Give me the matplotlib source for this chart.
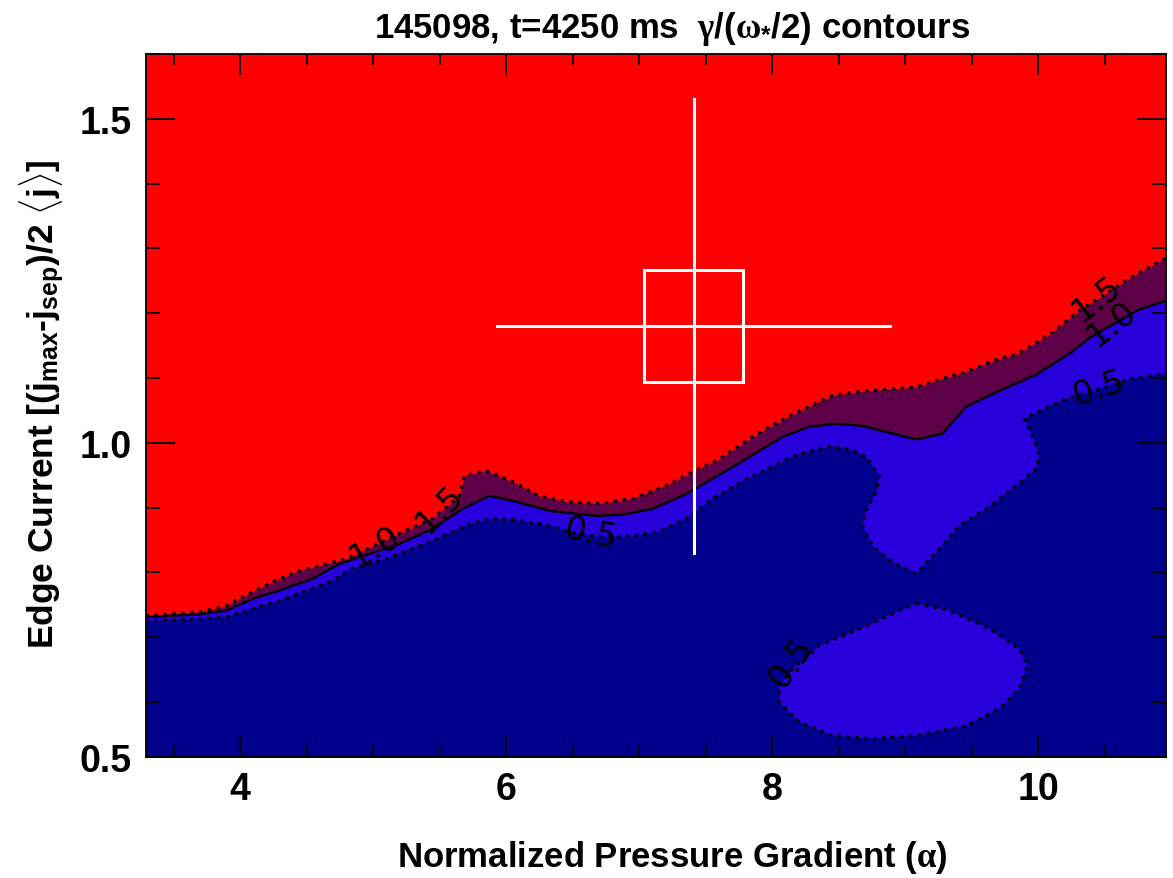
import matplotlib
matplotlib.use("Agg")
import matplotlib.pyplot as plt
from matplotlib.patches import Rectangle
from matplotlib.ticker import FixedLocator, MultipleLocator

plt.rcParams['font.family'] = ['Liberation Sans', 'DejaVu Sans']
plt.rcParams['font.weight'] = 'bold'
plt.rcParams['mathtext.fontset'] = 'custom'
plt.rcParams['mathtext.rm'] = 'Liberation Sans:bold'
plt.rcParams['mathtext.bf'] = 'Liberation Sans:bold'
plt.rcParams['mathtext.it'] = 'Liberation Serif'

# growth-rate contours gamma/(omega*/2) in the (alpha, edge current) plane
# 1.5 contour (red / purple boundary)
c15_x = [3.29, 3.694, 3.897, 4.092, 4.243, 4.423, 4.649, 4.799, 5.198, 5.446,
         5.649, 5.686, 5.852, 5.950, 6.077, 6.250, 6.453, 6.701, 6.950, 7.205,
         7.401, 7.604, 7.829, 7.957, 8.205, 8.453, 8.709, 9.085, 9.205, 9.461,
         9.709, 9.844, 10.092, 10.295, 10.551, 10.754, 10.96]
c15_y = [0.733, 0.739, 0.748, 0.770, 0.785, 0.801, 0.813, 0.821, 0.860, 0.883,
         0.918, 0.949, 0.957, 0.949, 0.937, 0.918, 0.909, 0.906, 0.914, 0.934,
         0.955, 0.975, 1.006, 1.022, 1.049, 1.073, 1.080, 1.086, 1.094, 1.110,
         1.130, 1.137, 1.168, 1.202, 1.236, 1.262, 1.285]

# 1.0 contour (solid line)
c10_x = [3.29, 3.694, 3.897, 4.092, 4.295, 4.543, 4.746, 5.198, 5.446, 5.671,
         5.874, 6.077, 6.325, 6.679, 6.874, 7.100, 7.355, 7.581, 7.829, 8.077,
         8.280, 8.483, 8.679, 9.085, 9.280, 9.461, 9.709, 9.995, 10.251, 10.401,
         10.754, 10.96]
c10_y = [0.731, 0.735, 0.741, 0.759, 0.772, 0.790, 0.813, 0.844, 0.867, 0.898,
         0.918, 0.909, 0.895, 0.887, 0.889, 0.898, 0.921, 0.948, 0.978, 1.009,
         1.025, 1.029, 1.026, 1.005, 1.014, 1.056, 1.080, 1.106, 1.140, 1.164,
         1.205, 1.219]

# 0.5 contour, main branch (folds back on itself near alpha ~ 9)
c05_x = [3.29, 3.694, 3.897, 4.092, 4.295, 4.498, 4.694, 4.844, 5.100, 5.198,
         5.446, 5.701, 5.897, 6.077, 6.325, 6.498, 6.701, 6.904, 7.152, 7.378,
         7.551, 7.807, 8.077, 8.205, 8.453, 8.603, 8.709, 8.806, 8.784, 8.709,
         8.679, 8.754, 8.905, 9.085, 9.258, 9.408, 9.611, 9.806, 9.987, 10.010,
         9.957, 9.897, 10.010, 10.213, 10.461, 10.709, 10.96]
c05_y = [0.725, 0.728, 0.731, 0.744, 0.756, 0.772, 0.787, 0.806, 0.821, 0.829,
         0.849, 0.873, 0.883, 0.881, 0.872, 0.861, 0.855, 0.855, 0.863, 0.886,
         0.914, 0.944, 0.971, 0.983, 0.995, 0.988, 0.978, 0.949, 0.924, 0.898,
         0.872, 0.841, 0.816, 0.798, 0.836, 0.872, 0.898, 0.929, 0.960, 0.980,
         1.011, 1.037, 1.049, 1.068, 1.083, 1.099, 1.106]

# 0.5 contour, closed island at low current
isl_x = [9.085, 9.333, 9.634, 9.859, 9.919, 9.859, 9.709, 9.461, 9.085, 8.754,
         8.453, 8.205, 8.055, 8.055, 8.153, 8.356, 8.657, 8.905, 9.085]
isl_y = [0.752, 0.741, 0.713, 0.682, 0.656, 0.620, 0.590, 0.563, 0.548, 0.543,
         0.548, 0.569, 0.600, 0.625, 0.651, 0.687, 0.713, 0.736, 0.752]

# experimental operating point with uncertainty box and range bars
alpha_exp, j_exp = 7.41, 1.18
box_dx, box_dy = 0.37, 0.087
bar_dx, bar_dy = 1.475, 0.35

# contour labels: text, alpha, current, rotation
clabels = [("1.5", 5.50, 0.898, 45), ("1.0", 5.01, 0.840, 30),
           ("0.5", 6.64, 0.860, -12), ("1.5", 10.44, 1.224, 38),
           ("1.0", 10.55, 1.185, 38), ("0.5", 10.46, 1.085, 18),
           ("0.5", 8.145, 0.662, 55)]

xmin, xmax = 3.29, 10.96
ymin, ymax = 0.515, 1.60

RED = '#ff0000'
PURPLE = '#5e0048'
BLUE = '#2800dc'
NAVY = '#00008c'

fig = plt.figure(figsize=(11.73, 8.79), dpi=100)
ax = fig.add_axes([0.1242, 0.1377, 0.8696, 0.7997])
ax.set_facecolor(RED)

floor = 0.3
ax.fill_between(c15_x, c15_y, floor, color=PURPLE, lw=0)
ax.fill_between(c10_x, c10_y, floor, color=BLUE, lw=0)
ax.fill(c05_x + [xmax + 1, xmin - 1], c05_y + [floor, floor], color=NAVY, lw=0)
ax.fill(isl_x, isl_y, color=BLUE, lw=0)

dots = (0, (1, 1.8))
ax.plot(c15_x, c15_y, color='black', lw=2.3, linestyle=dots)
ax.plot(c10_x, c10_y, color='black', lw=1.7)
ax.plot(c05_x, c05_y, color='black', lw=2.3, linestyle=dots)
ax.plot(isl_x, isl_y, color='black', lw=2.3, linestyle=dots)

for txt, xa, ya, rot in clabels:
    ax.text(xa, ya, txt, rotation=rot, ha='center', va='center',
            fontsize=24, fontweight='normal', color='black',
            family=['DejaVu Sans'])

# operating point
ax.add_patch(Rectangle((alpha_exp - box_dx, j_exp - box_dy), 2 * box_dx, 2 * box_dy,
                       fill=False, edgecolor='white', lw=2.2))
ax.plot([alpha_exp - bar_dx, alpha_exp + bar_dx], [j_exp, j_exp], color='white', lw=2.2)
ax.plot([alpha_exp, alpha_exp], [j_exp - bar_dy, j_exp + bar_dy], color='white', lw=2.2)

ax.set_xlim(xmin, xmax)
ax.set_ylim(ymin, ymax)

ax.xaxis.set_major_locator(FixedLocator([4, 6, 8, 10]))
ax.xaxis.set_minor_locator(MultipleLocator(0.5))
ax.yaxis.set_major_locator(FixedLocator([ymin, 1.0, 1.5]))
ax.yaxis.set_minor_locator(MultipleLocator(0.1))
ax.set_yticklabels(['0.5', '1.0', '1.5'])

ax.tick_params(axis='both', which='both', direction='in', top=True, right=True,
               width=1.3, color='black', labelsize=27)
ax.tick_params(axis='x', which='major', length=15, pad=10)
ax.tick_params(axis='x', which='minor', length=8)
ax.tick_params(axis='y', which='major', length=21, pad=10)
ax.tick_params(axis='y', which='minor', length=10)
for s in ax.spines.values():
    s.set_linewidth(1.3)
    s.set_zorder(5)

fig.text(0.573, 0.967, r'145098, t=4250 ms  $\gamma$/($\omega_{*}$/2) contours',
         ha='center', va='center', fontsize=25, fontweight='bold')
fig.text(0.573, 0.024, r'Normalized Pressure Gradient ($\alpha$)',
         ha='center', va='center', fontsize=25, fontweight='bold')
fig.text(0.036, 0.54, r'Edge Current [(j$_{\rm max}$-j$_{\rm sep}$)/2 $\langle$j$\rangle$]',
         ha='center', va='center', rotation=90, fontsize=25.5, fontweight='bold')

fig.savefig('out.png', dpi=100)
